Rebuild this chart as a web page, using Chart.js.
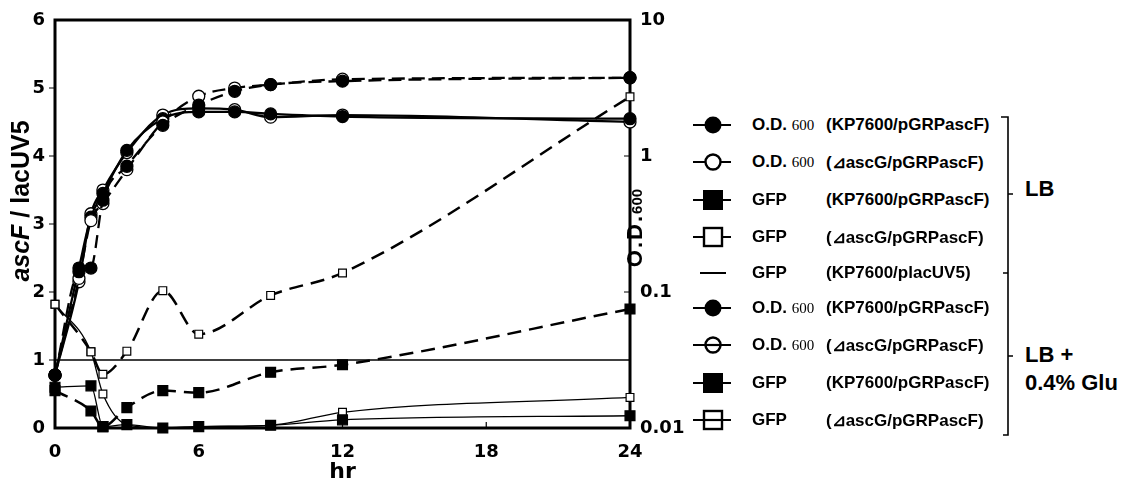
<!DOCTYPE html>
<html>
<head>
<meta charset="utf-8">
<script src="https://cdn.jsdelivr.net/npm/chart.js@4.4.0/dist/chart.umd.min.js"></script>
<style>
body{margin:0;background:#fff;width:1121px;height:489px;overflow:hidden;position:relative;font-family:"Liberation Sans",Arial,sans-serif;font-weight:bold;color:#000}
#wrap{position:absolute;left:0;top:0;width:690px;height:489px}
.vt{position:absolute;white-space:nowrap;transform-origin:center center}
.row{position:absolute;left:690px;width:320px;height:26px}
.row svg{position:absolute;left:0;top:0}
.row .k{position:absolute;left:62px;top:3px;font-size:17px}
.row .k small{font-family:"Liberation Serif",serif;font-weight:normal;font-size:15px}
.row .s{position:absolute;left:136px;top:3px;font-size:17px}
.grp{position:absolute;left:1025px;font-size:22px;line-height:28px}
</style>
</head>
<body>
<div id="wrap"><canvas id="c" width="690" height="489"></canvas></div>

<div class="vt" id="lt" style="left:-72px;top:186px;width:184px;text-align:center;font-size:25px;line-height:30px;transform:rotate(-90deg)"><i>ascF</i> / lacUV5</div>
<div class="vt" id="rt" style="left:586px;top:214px;width:100px;text-align:center;font-size:22px;line-height:26px;letter-spacing:2px;transform:rotate(-90deg)">O.D.<span style="font-size:15px;letter-spacing:0">600</span></div>

<div id="legend"></div>

<svg style="position:absolute;left:990px;top:110px" width="30" height="335">
  <path d="M11 7 H18 V325 H13 M18 84 H23 M13 163 H18 M18 246 H23" fill="none" stroke="#000" stroke-width="1.6"/>
</svg>
<div class="grp" style="top:175px">LB</div>
<div class="grp" style="top:341px">LB +<br>0.4% Glu</div>

<script>
// hours
const odHours = [0, 1, 1.5, 2, 3, 4.5, 6, 7.5, 9, 12, 24];
const gfpHours = [0, 1.5, 2, 3, 4.5, 6, 9, 12, 24];

// O.D.600 (right, log axis)
const odLbKp    = [0.0245, 0.141, 0.150, 0.473, 0.841, 1.68, 2.37, 2.99, 3.35, 3.55, 3.76];
const odLbDelta = [0.0245, 0.126, 0.335, 0.447, 0.794, 1.78, 2.75, 3.16, 3.35, 3.67, 3.76];
const odGluKp   = [0.0245, 0.150, 0.355, 0.531, 1.10, 1.88, 2.11, 2.11, 2.04, 1.95, 1.88];
const odGluDelta= [0.0245, 0.119, 0.376, 0.562, 1.06, 2.00, 2.24, 2.19, 1.93, 2.00, 1.78];

// GFP ascF / lacUV5 (left axis)
const gfpLbKp    = [0.55, 0.25, 0.02, 0.30, 0.55, 0.52, 0.82, 0.93, 1.75];
const gfpLbDelta = [1.82, 1.12, 0.79, 1.13, 2.02, 1.38, 1.95, 2.28, 4.87];
const gfpGluKp   = [0.60, 0.62, 0.02, 0.05, 0.00, 0.02, 0.04, 0.12, 0.18];
const gfpGluDelta= [1.82, 1.12, 0.50, 0.05, 0.00, 0.02, 0.04, 0.23, 0.45];
const lacHours = [0, 24];
const lacUV5 = [1, 1];

const xTicks = [0, 6, 12, 18, 24];
const odTicks = [0.01, 0.1, 1, 10];

const tickFont = {family: 'DejaVu Sans', weight: 'bold', size: 18};

function pts(xs, ys) {
    return xs.map((x, i) => ({x: x, y: ys[i]}));
}

function odSet(label, ys, filled, dashed) {
    return {
        label: label, data: pts(odHours, ys), yAxisID: 'y2',
        borderColor: '#000', borderWidth: 2.3, borderDash: dashed ? [13, 7] : [],
        pointStyle: 'circle', pointRadius: 6,
        pointBackgroundColor: filled ? '#000' : '#fff', pointBorderColor: '#000', pointBorderWidth: 1.3,
        cubicInterpolationMode: 'monotone', clip: false
    };
}

function gfpSet(label, ys, filled, dashed) {
    return {
        label: label, data: pts(gfpHours, ys), yAxisID: 'y',
        borderColor: '#000', borderWidth: dashed ? 2.5 : 1.3, borderDash: dashed ? [14, 8] : [],
        pointStyle: 'rect', pointRadius: filled ? 7 : 5.5,
        pointBackgroundColor: filled ? '#000' : '#fff', pointBorderColor: '#000', pointBorderWidth: 1.2,
        cubicInterpolationMode: 'monotone', clip: false
    };
}

const frame = {
    id: 'frame',
    beforeDatasetsDraw(chart) {
        const a = chart.chartArea, ctx = chart.ctx;
        const sx = chart.scales.x, sy = chart.scales.y, sy2 = chart.scales.y2;
        ctx.save();
        ctx.strokeStyle = '#000';
        ctx.lineWidth = 3;
        ctx.strokeRect(a.left, a.top, a.right - a.left, a.bottom - a.top);
        ctx.lineWidth = 1.2;
        ctx.beginPath();
        for (let v = 1; v < 6; v++) {
            const p = sy.getPixelForValue(v);
            ctx.moveTo(a.left - 6, p); ctx.lineTo(a.left, p);
        }
        [0.1, 1].forEach(v => {
            const p = sy2.getPixelForValue(v);
            ctx.moveTo(a.right - 6, p); ctx.lineTo(a.right, p);
        });
        [6, 12, 18].forEach(v => {
            const p = sx.getPixelForValue(v);
            ctx.moveTo(p, a.bottom); ctx.lineTo(p, a.bottom - 6);
        });
        ctx.stroke();
        ctx.restore();
    }
};

new Chart(document.getElementById('c'), {
    type: 'line',
    data: {
        datasets: [
            odSet('O.D.600 (KP7600/pGRPascF) LB', odLbKp, true, true),
            odSet('O.D.600 (ΔascG/pGRPascF) LB', odLbDelta, false, true),
            odSet('O.D.600 (KP7600/pGRPascF) Glu', odGluKp, true, false),
            odSet('O.D.600 (ΔascG/pGRPascF) Glu', odGluDelta, false, false),
            gfpSet('GFP (KP7600/pGRPascF) LB', gfpLbKp, true, true),
            gfpSet('GFP (ΔascG/pGRPascF) LB', gfpLbDelta, false, true),
            gfpSet('GFP (KP7600/pGRPascF) Glu', gfpGluKp, true, false),
            gfpSet('GFP (ΔascG/pGRPascF) Glu', gfpGluDelta, false, false),
            {
                label: 'GFP (KP7600/placUV5)', data: pts(lacHours, lacUV5), yAxisID: 'y',
                borderColor: '#000', borderWidth: 1.6, pointRadius: 0
            }
        ]
    },
    options: {
        responsive: false,
        devicePixelRatio: 1,
        animation: false,
        layout: {padding: {top: 20, left: 0, right: 0, bottom: 0}},
        plugins: {legend: {display: false}, tooltip: {enabled: false}},
        scales: {
            x: {
                type: 'linear', min: 0, max: 24,
                afterBuildTicks: s => { s.ticks = xTicks.map(v => ({value: v})); },
                afterFit: s => { s.height = 61; },
                grid: {display: false}, border: {display: false},
                ticks: {color: '#000', font: tickFont, padding: 6},
                title: {display: true, text: 'hr', color: '#000', padding: {top: 0},
                        font: {family: 'DejaVu Sans', weight: 'bold', size: 22}}
            },
            y: {
                type: 'linear', position: 'left', min: 0, max: 6,
                ticks: {stepSize: 1, color: '#000', font: tickFont, padding: 2},
                afterFit: s => { s.width = 55; },
                grid: {display: false}, border: {display: false}
            },
            y2: {
                type: 'logarithmic', position: 'right', min: 0.01, max: 10,
                afterBuildTicks: s => { s.ticks = odTicks.map(v => ({value: v})); },
                afterFit: s => { s.width = 60; },
                ticks: {color: '#000', font: tickFont, padding: 2, callback: v => String(v)},
                grid: {display: false}, border: {display: false}
            }
        }
    },
    plugins: [frame]
});

// legend
const legendRows = [
    {y: 125, key: 'od', strain: '(KP7600/pGRPascF)', mark: 'fc', through: false},
    {y: 162, key: 'od', strain: '(⊿ascG/pGRPascF)', mark: 'oc', through: false},
    {y: 200, key: 'gfp', strain: '(KP7600/pGRPascF)', mark: 'fs', through: false},
    {y: 237, key: 'gfp', strain: '(⊿ascG/pGRPascF)', mark: 'os', through: false},
    {y: 273, key: 'gfp', strain: '(KP7600/placUV5)', mark: 'none', through: false},
    {y: 308, key: 'od', strain: '(KP7600/pGRPascF)', mark: 'fc', through: true},
    {y: 345, key: 'od', strain: '(⊿ascG/pGRPascF)', mark: 'oc', through: true},
    {y: 383, key: 'gfp', strain: '(KP7600/pGRPascF)', mark: 'fs', through: true},
    {y: 420, key: 'gfp', strain: '(⊿ascG/pGRPascF)', mark: 'os', through: true}
];

function markSvg(m, through) {
    let s = '<svg width="56" height="26">';
    if (m === 'none') {
        s += '<line x1="10" y1="13" x2="36" y2="13" stroke="#000" stroke-width="2"/>';
    } else {
        s += '<line x1="3" y1="13" x2="41" y2="13" stroke="#000" stroke-width="2.2"/>';
        if (m === 'fc') s += '<circle cx="23" cy="13" r="8.5" fill="#000"/>';
        if (m === 'oc') s += '<circle cx="23" cy="13" r="7.5" fill="#fff" stroke="#000" stroke-width="2.4"/>';
        if (m === 'fs') s += '<rect x="13" y="3" width="20" height="20" fill="#000"/>';
        if (m === 'os') s += '<rect x="14" y="4" width="18" height="18" fill="#fff" stroke="#000" stroke-width="2.4"/>';
        if (through && (m === 'oc' || m === 'os')) s += '<line x1="14" y1="13" x2="32" y2="13" stroke="#000" stroke-width="2.2"/>';
    }
    return s + '</svg>';
}

const lg = document.getElementById('legend');
legendRows.forEach(r => {
    const d = document.createElement('div');
    d.className = 'row';
    d.style.top = (r.y - 13) + 'px';
    const k = r.key === 'od' ? 'O.D. <small>600</small>' : 'GFP';
    d.innerHTML = markSvg(r.mark, r.through) + '<span class="k">' + k + '</span><span class="s">' + r.strain + '</span>';
    lg.appendChild(d);
});
</script>
</body>
</html>
